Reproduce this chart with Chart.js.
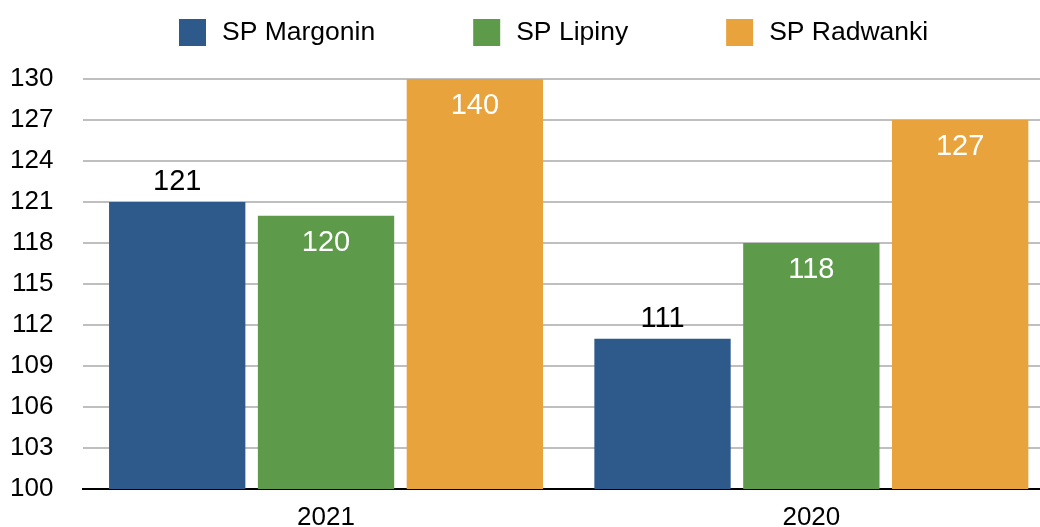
<!DOCTYPE html>
<html><head><meta charset="utf-8">
<script src="https://cdn.jsdelivr.net/npm/chart.js@4"></script>
<style>
html,body{margin:0;padding:0;overflow:hidden;background:#fff}
#wrap{width:1056px;height:540px;position:relative}
</style>
</head><body>
<div id="wrap"><canvas id="c"></canvas></div>
<script>
const categories = ['2021', '2020'];
const seriesNames = ['SP Margonin', 'SP Lipiny', 'SP Radwanki'];
const margonin = [121, 111];
const lipiny = [120, 118];
const radwanki = [140, 127];
const yMin = 100, yMax = 130, yStep = 3;
const colors = ['#2E5A8B', '#5D9A4A', '#E8A33C'];
const labelOutside = [true, false, false];

const FONT = '"Liberation Sans", Arial, Helvetica, sans-serif';
Chart.defaults.font.family = FONT;
Chart.defaults.color = '#000';

const valueLabels = {
  id: 'valueLabels',
  afterDatasetsDraw(chart) {
    const ctx = chart.ctx, area = chart.chartArea;
    ctx.save();
    ctx.font = '29px ' + FONT;
    ctx.textAlign = 'center';
    ctx.textBaseline = 'alphabetic';
    chart.data.datasets.forEach((ds, di) => {
      const meta = chart.getDatasetMeta(di);
      meta.data.forEach((bar, i) => {
        const top = Math.max(bar.y, area.top);
        const text = String(ds.data[i]);
        if (labelOutside[di]) {
          ctx.fillStyle = '#000';
          ctx.fillText(text, bar.x, top - 12);
        } else {
          ctx.fillStyle = '#fff';
          ctx.fillText(text, bar.x, top + 35);
        }
      });
    });
    ctx.restore();
  }
};

const topLegend = {
  id: 'topLegend',
  afterDraw(chart) {
    const ctx = chart.ctx;
    ctx.save();
    ctx.font = '26.5px ' + FONT;
    ctx.textAlign = 'left';
    ctx.textBaseline = 'middle';
    const box = 27, gap = 16, itemGap = 98, y = 19;
    let x = 179;
    chart.data.datasets.forEach(ds => {
      ctx.fillStyle = ds.backgroundColor;
      ctx.fillRect(x, y, box, box);
      ctx.fillStyle = '#000';
      ctx.fillText(ds.label, x + box + gap, y + box / 2);
      x += box + gap + ctx.measureText(ds.label).width + itemGap;
    });
    ctx.restore();
  }
};

const seriesValues = [margonin, lipiny, radwanki];
new Chart(document.getElementById('c'), {
  type: 'bar',
  data: {
    labels: categories,
    datasets: seriesNames.map((name, i) => ({
      label: name,
      data: seriesValues[i],
      backgroundColor: colors[i],
      borderWidth: 0,
      categoryPercentage: 0.92,
      barPercentage: 0.916
    }))
  },
  options: {
    responsive: true,
    maintainAspectRatio: false,
    animation: false,
    layout: { padding: { top: 79, left: 10, right: 2, bottom: 6.8 } },
    plugins: {
      legend: { display: false },
      tooltip: { enabled: false }
    },
    scales: {
      x: {
        z: 1,
        grid: { display: false, drawTicks: false },
        border: { display: true, color: '#000', width: 2 },
        ticks: { font: { size: 26 }, color: '#000', padding: 13 },
        afterFit(scale) { scale.height -= scale.options.ticks.padding; }
      },
      y: {
        min: yMin, max: yMax,
        grid: { color: '#bfbfbf', lineWidth: 2, drawTicks: false },
        border: { display: false },
        ticks: { stepSize: yStep, font: { size: 26 }, color: '#000', padding: 30 },
        afterFit(scale) { scale.width -= scale.options.ticks.padding; }
      }
    }
  },
  plugins: [valueLabels, topLegend]
});
</script>
</body></html>
